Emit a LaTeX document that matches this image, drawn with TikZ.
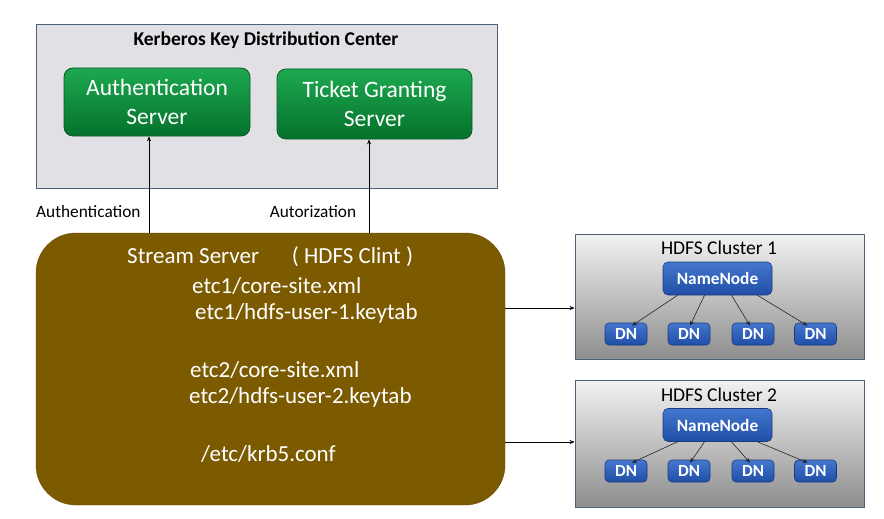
\documentclass[tikz,border=0pt]{standalone}
\usepackage{fontspec}
\setmainfont{Carlito}
\usetikzlibrary{arrows.meta}
\definecolor{kdcfill}{HTML}{E1E1E5}
\definecolor{boxline}{HTML}{4F5F78}
\definecolor{gtop}{HTML}{1DA850}
\definecolor{gbot}{HTML}{05722C}
\definecolor{gline}{HTML}{0B5A28}
\definecolor{btop}{HTML}{4477CF}
\definecolor{bbot}{HTML}{1F4EA6}
\definecolor{bline}{HTML}{1B3C7C}
\definecolor{brown}{HTML}{7B5A00}
\definecolor{ctop}{HTML}{F2F2F2}
\definecolor{cbot}{HTML}{8E8E8E}
\tikzset{
  kdcbox/.style={draw=boxline, fill=kdcfill, line width=0.8pt},
  greenbox/.style={draw=gline, line width=0.8pt, rounded corners=9pt, top color=gtop, bottom color=gbot,
    text=white, align=center, font=\fontsize{23.5}{29}\selectfont, inner sep=0pt},
  streambox/.style={draw=brown!85!black, fill=brown, rounded corners=40pt, inner sep=0pt},
  sstext/.style={text=white, font=\fontsize{23}{26}\selectfont, anchor=west, inner sep=0pt},
  clusterbox/.style={draw=boxline, line width=0.8pt, top color=ctop, bottom color=cbot, inner sep=0pt},
  nnbox/.style={draw=bline, line width=0.6pt, rounded corners=5pt, top color=btop, bottom color=bbot,
    text=white, font=\bfseries\fontsize{17.3}{19}\selectfont, inner sep=0pt},
  dnbox/.style={draw=bline, line width=0.6pt, rounded corners=4pt, top color=btop, bottom color=bbot,
    text=white, font=\bfseries\fontsize{17}{19}\selectfont, inner sep=0pt, minimum width=42pt, minimum height=22pt},
  lbl/.style={font=\fontsize{17.3}{19}\selectfont, inner sep=0pt},
  arr/.style={-{Stealth[length=5pt,width=4pt]}, line width=0.6pt, black},
  darr/.style={-{Stealth[length=5pt,width=4pt]}, line width=0.6pt, black!85},
}
\begin{document}
\begin{tikzpicture}[x=1pt,y=-1pt]
\useasboundingbox (0,0) rectangle (884,519);
\fill[white] (0,0) rectangle (884,519);

% KDC
\node[kdcbox, minimum width=461pt, minimum height=164pt, inner sep=0pt] (kdc) at (266.5,106) {};
\node[font=\bfseries\fontsize{19.5}{21}\selectfont, inner sep=0pt] (kdct) at (266,40) {Kerberos Key Distribution Center};
\node[greenbox, minimum width=186pt, minimum height=68pt] (as) at (157,102) {Authentication\\Server};
\node[greenbox, minimum width=195pt, minimum height=70pt] (tgs) at (374.5,104) {Ticket Granting\\Server};

% Stream server
\node[streambox, minimum width=469pt, minimum height=272pt] (ss) at (270.5,369) {};
\node[sstext] (t1) at (127,257) {Stream Server\hspace{1.2em} ( HDFS Clint )};
\node[sstext] (t2) at (192,286) {etc1/core-site.xml};
\node[sstext] (t3) at (195,313) {etc1/hdfs-user-1.keytab};
\node[sstext] (t4) at (190,370) {etc2/core-site.xml};
\node[sstext] (t5) at (189,397) {etc2/hdfs-user-2.keytab};
\node[sstext] (t6) at (201,454) {/etc/krb5.conf};

% labels and KDC arrows
\node[lbl, anchor=west] (la) at (36,212) {Authentication};
\node[lbl] (lz) at (313,212) {Autorization};
\coordinate (a1) at (149,0);
\coordinate (a2) at (369,0);
\draw[arr] (ss.north -| a1) -- (as.south -| a1);
\draw[arr] (ss.north -| a2) -- (tgs.south -| a2);

% Clusters
\node[clusterbox, minimum width=289pt, minimum height=125pt] (c1) at (719.5,296.5) {};
\node[clusterbox, minimum width=289pt, minimum height=127pt] (c2) at (719.5,443.5) {};
\node[lbl, font=\fontsize{19.5}{21}\selectfont] (c1t) at (719,248) {HDFS Cluster 1};
\node[lbl, font=\fontsize{19.5}{21}\selectfont] (c2t) at (719,395) {HDFS Cluster 2};

\node[nnbox, minimum width=109pt, minimum height=33pt] (nn1) at (717.5,278.5) {NameNode};
\node[dnbox] (d11) at (626,334) {DN};
\node[dnbox] (d12) at (689,334) {DN};
\node[dnbox] (d13) at (753,334) {DN};
\node[dnbox] (d14) at (815.5,334) {DN};

\node[nnbox, minimum width=109pt, minimum height=33pt] (nn2) at (717.5,425) {NameNode};
\node[dnbox] (d21) at (626,471) {DN};
\node[dnbox] (d22) at (689,471) {DN};
\node[dnbox] (d23) at (753,471) {DN};
\node[dnbox] (d24) at (815.5,471) {DN};

\foreach \c in {1,2}{
  \draw[darr] ([xshift=-40pt]nn\c.south) -- ([xshift=6pt,yshift=-3pt]d\c1.north);
  \draw[darr] ([xshift=-13pt]nn\c.south) -- ([xshift=1pt,yshift=-3pt]d\c2.north);
  \draw[darr] ([xshift=14pt]nn\c.south) -- ([xshift=-3pt,yshift=-3pt]d\c3.north);
  \draw[darr] ([xshift=40pt]nn\c.south) -- ([xshift=-8pt,yshift=-3pt]d\c4.north);
}

% Stream -> clusters
\coordinate (r1) at (0,308);
\coordinate (r2) at (0,442);
\draw[arr] (ss.east |- r1) -- (c1.west |- r1);
\draw[arr] (ss.east |- r2) -- (c2.west |- r2);
\end{tikzpicture}
\end{document}
